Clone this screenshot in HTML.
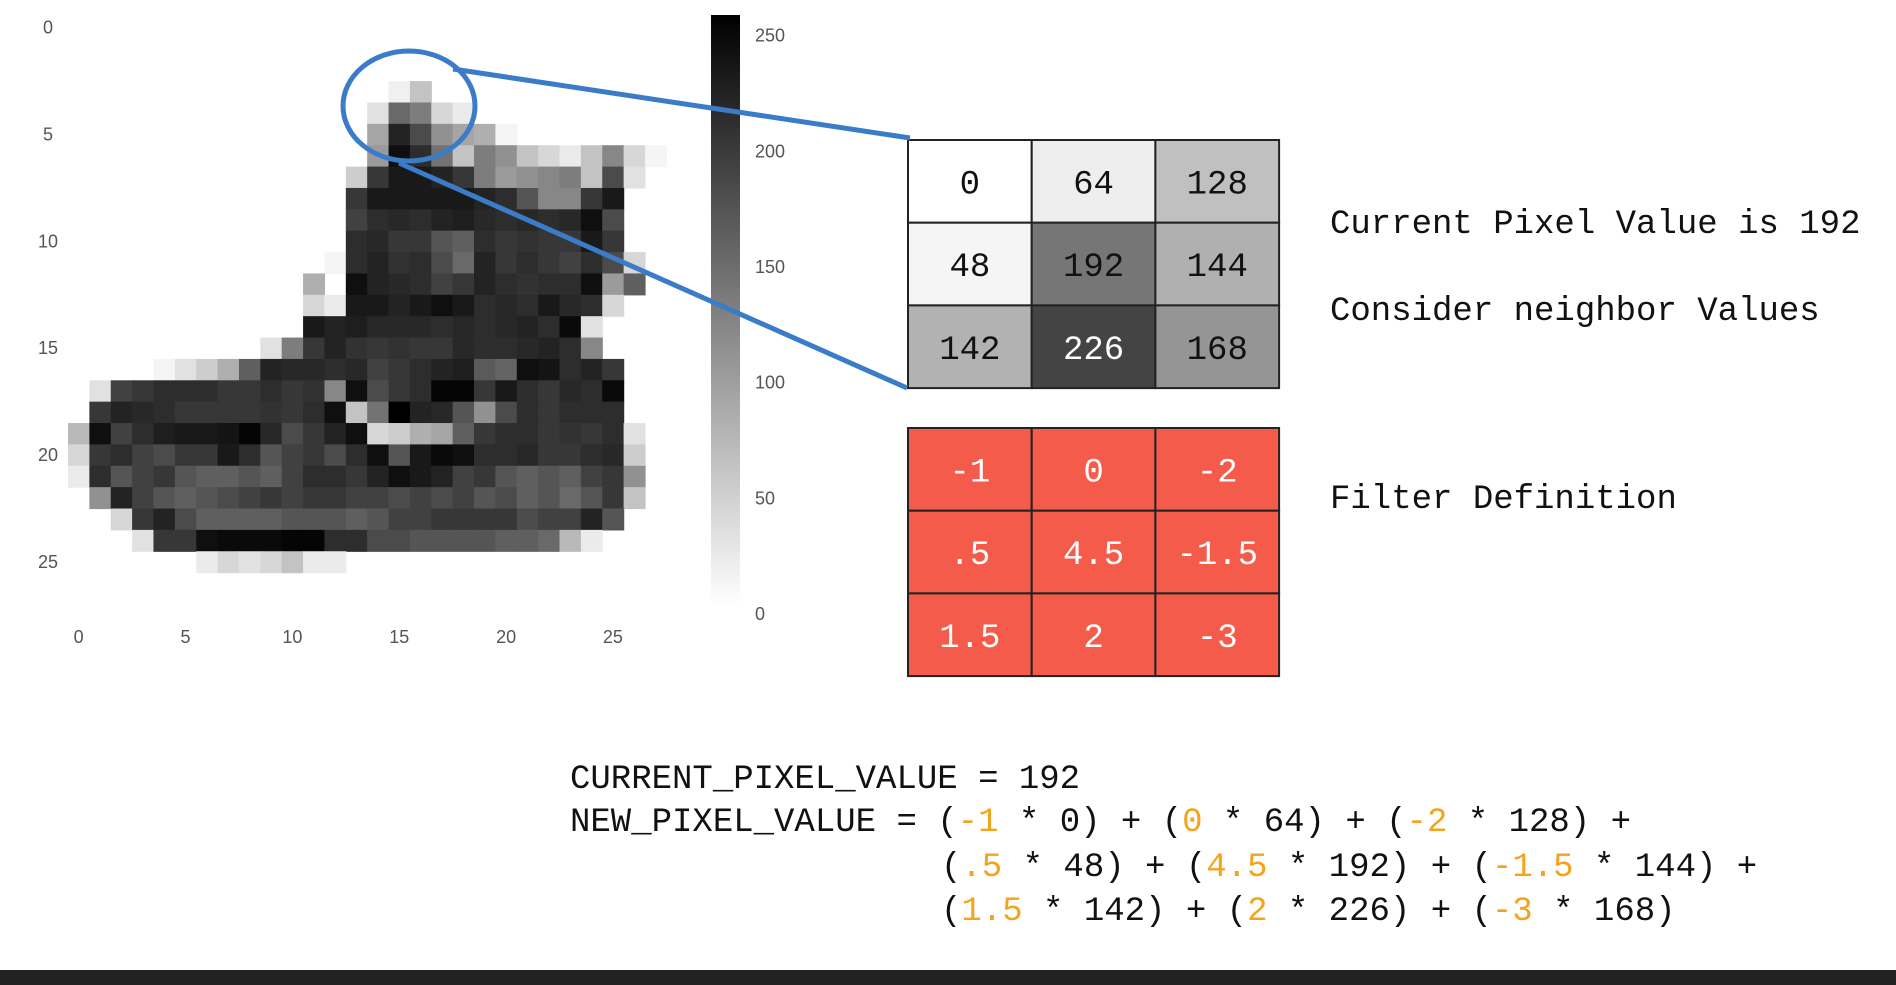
<!DOCTYPE html>
<html><head><meta charset="utf-8"><style>
body{margin:0;width:1896px;height:985px;background:#fff;overflow:hidden;position:relative;font-family:"Liberation Mono",monospace}
.t{position:absolute;font-size:34px;color:#111;white-space:pre;line-height:1}
.o{color:#f2a41c}
</style></head><body>
<svg id="chart" width="1896" height="985" style="position:absolute;left:0;top:0">
<defs><linearGradient id="cb" x1="0" y1="0" x2="0" y2="1"><stop offset="0" stop-color="#000"/><stop offset="1" stop-color="#fff"/></linearGradient></defs>
<g id="cells"></g>
<g id="ticks" font-family="Liberation Sans, sans-serif" font-size="18" fill="#555"></g>
<rect x="711" y="15" width="29" height="590" fill="url(#cb)"/>
<g id="grids"></g>
<ellipse cx="409" cy="106" rx="66" ry="55" fill="none" stroke="#3a7cc8" stroke-width="5"/>
<line x1="453" y1="69" x2="910" y2="138" stroke="#3a7cc8" stroke-width="5"/>
<line x1="399" y1="163" x2="907" y2="388" stroke="#3a7cc8" stroke-width="5"/>
<rect x="0" y="970" width="1896" height="15" fill="#222"/>
</svg>
<div class="t" style="left:1330px;top:208px">Current Pixel Value is 192</div>
<div class="t" style="left:1330px;top:295px">Consider neighbor Values</div>
<div class="t" style="left:1330px;top:483px">Filter Definition</div>
<div class="t" style="left:570px;top:763px">CURRENT_PIXEL_VALUE = 192</div>
<div class="t" style="left:570px;top:806px">NEW_PIXEL_VALUE = (<span class="o">-1</span> * 0) + (<span class="o">0</span> * 64) + (<span class="o">-2</span> * 128) +</div>
<div class="t" style="left:941px;top:851px">(<span class="o">.5</span> * 48) + (<span class="o">4.5</span> * 192) + (<span class="o">-1.5</span> * 144) +</div>
<div class="t" style="left:941px;top:895px">(<span class="o">1.5</span> * 142) + (<span class="o">2</span> * 226) + (<span class="o">-3</span> * 168)</div>
<script>
// sparse pixel data: rows -> [startCol, values...]
const rows = {
3:[15,15,60],
4:[14,30,150,130,40,20],
5:[14,90,220,180,110,90,80,10],
6:[14,100,240,210,140,60,130,110,60,40,20,60,120,40,10],
7:[13,50,200,230,230,220,200,130,100,110,120,130,60,180,30],
8:[13,200,230,230,230,230,230,220,210,170,120,120,200,230],
9:[13,190,210,215,210,220,225,215,210,215,210,215,240,180],
10:[13,210,215,200,200,170,160,210,200,205,200,200,230,200],
11:[12,10,210,220,205,210,180,150,220,200,210,200,190,210,180,40],
12:[11,80,0,240,220,215,210,190,200,220,210,205,210,210,240,100,160],
13:[11,40,20,230,230,220,230,240,230,210,215,210,230,215,210,40],
14:[11,230,220,225,215,215,215,210,215,210,215,220,210,245,30],
15:[9,30,130,200,220,205,200,205,200,200,215,210,210,215,220,210,120],
16:[4,10,30,50,80,160,220,215,215,210,215,190,200,210,220,225,165,155,240,235,210,220,200],
17:[1,30,190,200,210,210,210,200,200,210,200,205,120,240,180,200,210,250,250,200,230,210,200,215,210,245],
18:[1,200,220,215,210,200,200,200,200,205,200,210,240,60,140,255,220,215,170,110,180,210,200,210,210,210],
19:[0,70,240,190,210,225,230,230,235,250,215,180,200,220,240,40,50,80,90,160,200,210,210,200,205,200,210,30],
20:[0,40,200,210,190,180,200,200,230,210,170,190,200,180,210,240,170,230,245,240,210,210,215,200,200,210,215,50],
21:[0,20,210,170,190,200,170,160,160,170,160,190,210,210,200,220,240,230,220,190,200,170,160,170,160,190,200,110],
22:[1,110,220,190,170,160,170,180,190,200,190,200,200,190,190,180,190,180,190,170,180,160,170,150,170,200,60],
23:[2,40,200,220,180,160,160,160,160,170,170,170,160,170,190,190,200,200,200,200,180,190,190,220,170],
24:[3,30,200,200,240,245,245,245,250,250,210,210,180,180,170,170,170,170,160,160,150,70,20],
25:[6,20,40,30,40,60,20,20]
};
const xTicks=[0,5,10,15,20,25], yTicks=[0,5,10,15,20,25], cbTicks=[0,50,100,150,200,250];
const gridVals=[[0,64,128],[48,192,144],[142,226,168]];
const filterVals=[["-1","0","-2"],[".5","4.5","-1.5"],["1.5","2","-3"]];
const NS="http://www.w3.org/2000/svg";
const X0=68,Y0=17,CS=21.37;
const xs=c=>X0+c*CS, ys=r=>Y0+r*CS;
const cbY=v=>605-v/255*590;
function mk(t,a,p){const e=document.createElementNS(NS,t);for(const k in a)e.setAttribute(k,a[k]);if(p)p.appendChild(e);return e;}
const gCells=document.getElementById('cells');
for(const r in rows){const arr=rows[r];for(let i=1;i<arr.length;i++){const v=arr[i];if(!v)continue;const g=255-v;
const e=mk('rect',{x:xs(arr[0]+i-1),y:ys(+r),width:CS+0.6,height:CS+0.6,fill:`rgb(${g},${g},${g})`},gCells);

}}
const gT=document.getElementById('ticks');
xTicks.forEach(v=>{const e=mk('text',{x:xs(v)+CS/2,y:643,'text-anchor':'middle'},gT);e.textContent=v;

});
yTicks.forEach(v=>{const e=mk('text',{x:48,y:ys(v)+CS/2+6,'text-anchor':'middle'},gT);e.textContent=v;

});
cbTicks.forEach(v=>{const e=mk('text',{x:755,y:cbY(v)+15},gT);e.textContent=v;

});
const gG=document.getElementById('grids');
const GX=908,CW=123.7,CH=82.7;
// display shade: gentle curve (light values stay light)
function shade(v){const t=v/255;const g=Math.round(255*(1-Math.pow(t,1.9)*0.92));return `rgb(${g},${g},${g})`;}
function grid(y0,vals,fillFn,txtFn,name){for(let r=0;r<3;r++)for(let c=0;c<3;c++){
const rc=mk('rect',{x:GX+c*CW,y:y0+r*CH,width:CW,height:CH,fill:fillFn(vals[r][c]),stroke:'#222','stroke-width':2},gG);


const t=mk('text',{x:GX+c*CW+CW/2,y:y0+r*CH+CH/2+12,'text-anchor':'middle','font-family':'Liberation Mono, monospace','font-size':34,fill:txtFn(vals[r][c])},gG);
t.textContent=vals[r][c];

}}
grid(140,gridVals,shade,v=>v>210?'#fff':'#111','pixel-grid');
grid(428,filterVals,()=>'#f55b4b',()=>'#fff','filter-grid');
</script>
</body></html>
